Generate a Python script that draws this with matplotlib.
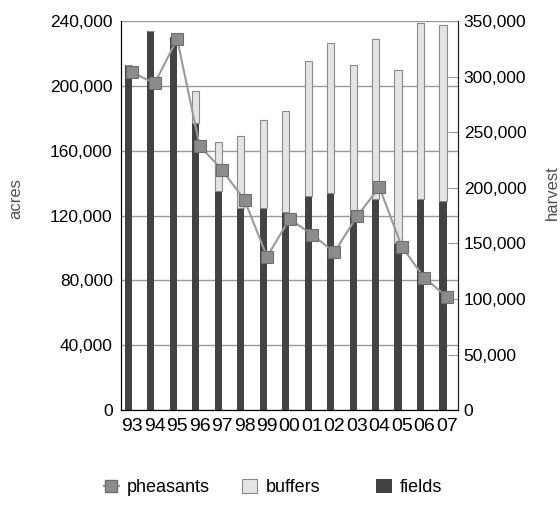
import numpy as np
import matplotlib
matplotlib.use("Agg")
import matplotlib.pyplot as plt
from matplotlib.ticker import FuncFormatter
from matplotlib.lines import Line2D
from matplotlib.patches import Patch

plt.rcParams['font.family'] = ['Liberation Sans', 'DejaVu Sans']

years = ["93", "94", "95", "96", "97", "98", "99", "00", "01", "02", "03", "04", "05", "06", "07"]
fields = [213000, 234000, 230000, 177000, 135000, 125000, 125000, 122000,
          132000, 134000, 120000, 130000, 103000, 130000, 129000]
buffers = [0, 0, 0, 20000, 30500, 44000, 54000, 62500,
           83500, 92500, 93000, 99000, 107000, 109000, 108700]
pheasants = [304000, 294000, 334000, 238000, 216000, 189000, 138000, 172000,
             158000, 142000, 174500, 200500, 147000, 119000, 102000]

dark = "#434343"
light = "#e4e4e4"
grid_c = "#9a9a9a"
label_c = "#505050"

fig = plt.figure(figsize=(5.6, 5.05), dpi=100)
ax = fig.add_axes([0.216, 0.188, 0.602, 0.770])
x = np.arange(len(years))
bx = x - 0.17
w = 0.32

ax.bar(bx, fields, width=w, color=dark, zorder=2)
ax.bar(bx, buffers, width=w, bottom=fields, color=light,
       edgecolor="#8a8a8a", linewidth=0.8, zorder=2)

fmt = FuncFormatter(lambda v, p: f"{int(v):,}")
ax.set_xlim(-0.5, len(years) - 0.5)
ax.set_ylim(0, 240000)
ax.set_yticks(np.arange(0, 240001, 40000))
ax.yaxis.set_major_formatter(fmt)
ax.grid(axis="y", color=grid_c, linewidth=1.0, zorder=0)
ax.set_axisbelow(True)
ax.set_xticks(x)
ax.set_xticklabels(years, fontsize=14)
ax.tick_params(axis="y", labelsize=12.5, length=0, pad=6)
ax.tick_params(axis="x", length=0, pad=6)
ax.spines["top"].set_visible(False)
for s in ("left", "bottom", "right"):
    ax.spines[s].set_color("#222222")
ax.set_ylabel("acres", fontsize=12, color=label_c)
ax.yaxis.set_label_coords(-0.29, 0.545)

ax2 = ax.twinx()
ax2.plot(x, pheasants, color="#9a9a9a", linewidth=1.5, marker="s",
         markersize=8, markerfacecolor="#8c8c8c", markeredgecolor="#6e6e6e",
         markeredgewidth=0.8, zorder=3)
ax2.set_ylim(0, 350000)
ax2.set_yticks(np.arange(0, 350001, 50000))
ax2.yaxis.set_major_formatter(fmt)
ax2.tick_params(axis="y", labelsize=12.5, direction="in", length=7,
                color=grid_c, pad=4)
ax2.spines["top"].set_visible(False)
ax2.spines["right"].set_color("#222222")
ax2.set_ylabel("harvest", fontsize=12, color=label_c)
ax2.yaxis.set_label_coords(1.256, 0.56)

# legend entries placed separately to match the uneven spacing
entries = [
    (Line2D([0], [0], color="#9a9a9a", linewidth=1.5, marker="s", markersize=8,
            markerfacecolor="#8c8c8c", markeredgecolor="#6e6e6e"), "pheasants", 0.185),
    (Patch(facecolor=light, edgecolor="#8a8a8a", linewidth=0.8), "buffers", 0.432),
    (Patch(facecolor=dark), "fields", 0.672),
]
for h, lab, lx in entries:
    fig.legend([h], [lab], loc="center left", bbox_to_anchor=(lx, 0.034),
               frameon=False, fontsize=13, borderpad=0, borderaxespad=0,
               handlelength=0.85, handleheight=0.8, handletextpad=0.45)

fig.savefig("out.png", dpi=100)
